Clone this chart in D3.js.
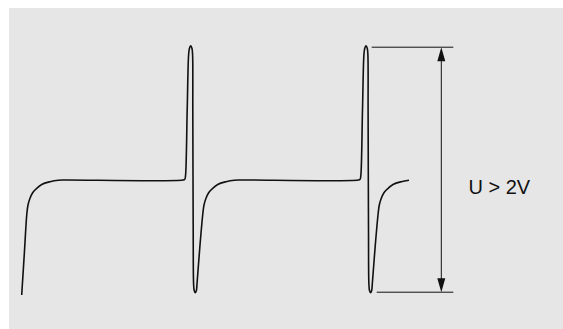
<!DOCTYPE html>
<html>
<head>
<meta charset="utf-8">
<script src="https://cdn.jsdelivr.net/npm/d3@7"></script>
<style>
  html, body { margin: 0; padding: 0; background: #fff; }
  svg { display: block; }
</style>
</head>
<body>
<svg id="chart"></svg>
<script>
// trace: time in ms, voltage in V (baseline = 0)
const timeMs = [
  0, 0.26, 0.52, 0.63, 0.83, 1.08, 1.33, 2.0, 2.83, 3.66, 4.43,
  16.13, 16.31, 16.38, 16.55, 16.69, 16.77, 16.9, 17.03, 17.09, 17.11,
  17.15, 17.19, 17.25, 17.36, 17.47, 17.53, 17.83, 18.12, 18.23, 18.43,
  18.68, 18.93, 19.6, 20.43, 21.26, 22.03,
  33.66, 33.84, 33.91, 34.08, 34.22, 34.3, 34.43, 34.56, 34.62, 34.64,
  34.68, 34.72, 34.78, 34.89, 35.0, 35.06, 35.36, 35.65, 35.76, 35.96,
  36.21, 36.46, 37.13, 37.96, 38.73
];
const voltage = [
  -1.15, -0.74, -0.33, -0.25, -0.183, -0.13, -0.1, -0.045, -0.017, -0.002, 0,
  0, 0.008, 0.04, 0.7, 1.25, 1.315, 1.343, 1.315, 1.25, 0.7,
  -0.5, -1.04, -1.105, -1.127, -1.105, -1.04, -0.65, -0.33, -0.25, -0.183,
  -0.13, -0.1, -0.045, -0.017, -0.002, 0,
  0, 0.008, 0.04, 0.7, 1.25, 1.315, 1.343, 1.315, 1.25, 0.7,
  -0.5, -1.04, -1.105, -1.127, -1.105, -1.04, -0.65, -0.33, -0.25, -0.183,
  -0.13, -0.1, -0.045, -0.017, -0.003
];
const label = "U > 2V";

const width = 563, height = 329;
const svg = d3.select("#chart").attr("width", width).attr("height", height);

// panel
svg.append("rect")
  .attr("x", 9).attr("y", 8)
  .attr("width", width - 9).attr("height", height - 8)
  .attr("fill", "#e6e6e6");

const x = d3.scaleLinear().domain([0, 40]).range([21.7, 421.7]);
const y = d3.scaleLinear().domain([-1.15, 1.34]).range([295, 46]);

const data = timeMs.map((t, i) => ({ t: t, v: voltage[i] }));

// Draw trace
svg.append("path")
  .datum(data)
  .attr("fill", "none")
  .attr("stroke", "#111")
  .attr("stroke-width", 1.6)
  .attr("stroke-linejoin", "round")
  .attr("d", d3.line()
    .x(d => x(d.t))
    .y(d => y(d.v))
    .curve(d3.curveCatmullRom.alpha(0.5)));

// peak-to-peak dimension
const vMax = d3.max(voltage), vMin = d3.min(voltage.slice(5));
const yTop = y(vMax) + 1.5, yBot = y(vMin) - 0.5;
const dim = svg.append("g").attr("stroke", "#111").attr("stroke-width", 1);
dim.append("line").attr("x1", x(35.0)).attr("x2", x(43.16)).attr("y1", yTop).attr("y2", yTop);
dim.append("line").attr("x1", x(35.5)).attr("x2", x(43.16)).attr("y1", yBot).attr("y2", yBot);
const ax = x(41.96);
dim.append("line").attr("x1", ax).attr("x2", ax).attr("y1", yTop + 10).attr("y2", yBot - 10);

const head = 14, hw = 4;
svg.append("path")
  .attr("fill", "#111")
  .attr("d", `M${ax},${yTop}L${ax - hw},${yTop + head}L${ax + hw},${yTop + head}Z` +
             `M${ax},${yBot}L${ax - hw},${yBot - head}L${ax + hw},${yBot - head}Z`);

// Add label
svg.append("text")
  .attr("x", 468.4)
  .attr("y", 193.5)
  .attr("font-family", "Liberation Sans, Arial, sans-serif")
  .attr("font-size", "20px")
  .attr("fill", "#111")
  .text(label);
</script>
</body>
</html>
